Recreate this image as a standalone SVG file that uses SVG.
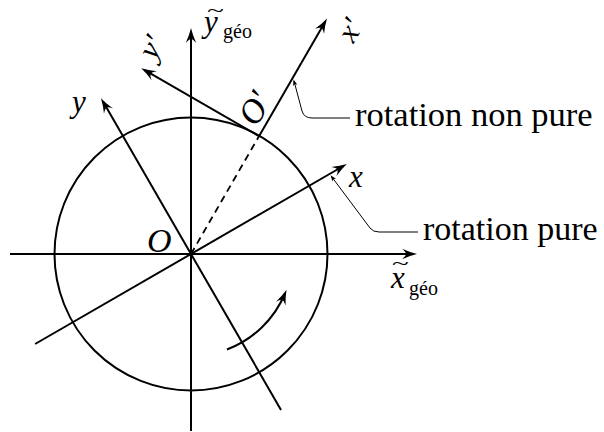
<svg xmlns="http://www.w3.org/2000/svg" width="604" height="432" viewBox="0 0 604 432">
<defs>
<marker id="arr" markerUnits="userSpaceOnUse" markerWidth="20" markerHeight="20" refX="0" refY="0" orient="auto" overflow="visible">
<path d="M4,0 Q-3,-1.6 -11,-5.2 Q-7,-1.8 -7,0 Q-7,1.8 -11,5.2 Q-3,1.6 4,0 Z" fill="#000"/>
</marker>
<marker id="sarr" markerUnits="userSpaceOnUse" markerWidth="10" markerHeight="10" refX="0" refY="0" orient="auto-start-reverse" overflow="visible">
<path d="M1.5,0 L-4.5,-2.2 L-3.2,0 L-4.5,2.2 Z" fill="#000"/>
</marker>
</defs>
<style>
.ax{fill:none;stroke:#000;stroke-width:2;marker-end:url(#arr)}
.pl{fill:none;stroke:#000;stroke-width:2}
.ld{fill:none;stroke:#000;stroke-width:1;marker-start:url(#sarr)}
text{font-family:'Liberation Serif','Times New Roman','DejaVu Serif',serif;fill:#000}
.m{font-style:italic}
</style>
<rect width="604" height="432" fill="#fff"/>
<g id="circle">
<circle cx="191" cy="254" r="136.5" class="pl"/>
</g>
<g id="connectors">
<line class="ax" x1="10" y1="254" x2="413" y2="254"/>
<line class="ax" x1="191" y1="431" x2="191" y2="32"/>
<line class="ax" x1="35.1" y1="344" x2="343.4" y2="166"/>
<line class="ax" x1="281" y1="409.9" x2="103" y2="101.6"/>
<line stroke="#000" stroke-width="1.8" stroke-dasharray="7,5" x1="191" y1="254" x2="259" y2="136.2"/>
<line class="ax" x1="259" y1="136.2" x2="325" y2="21.9"/>
<line class="ax" x1="259" y1="136.2" x2="144.7" y2="70.2"/>
<path class="ax" d="M226.9,349.5 A102,102 0 0 0 285,293.5"/>
<path class="ld" d="M294,81 L302,111 Q304,118 312,118 L350,118"/>
<path class="ld" d="M331.5,176.5 L370,228 Q373,232 379,232 L418,232"/>
</g>
<g id="labels">
<text font-family="Liberation Serif, serif" x="355" y="126" font-size="34.5">rotation non pure</text>
<text font-family="Liberation Serif, serif" x="423" y="240" font-size="34">rotation pure</text>
<text class="m" font-family="Liberation Serif, serif" x="349" y="187" font-size="31">x</text>
<text class="m" font-family="Liberation Serif, serif" x="72" y="112" font-size="31">y</text>
<text class="m" font-family="Liberation Serif, serif" x="147" y="252" font-size="34">O</text>
<text class="m" font-family="Liberation Serif, serif" x="204" y="32" font-size="31">y</text>
<text font-family="Liberation Serif, serif" transform="translate(207,17) scale(1,0.6)" font-size="31">~</text>
<text font-family="Liberation Serif, serif" x="223" y="38" font-size="20">géo</text>
<text class="m" font-family="Liberation Serif, serif" x="391" y="288" font-size="31">x</text>
<text font-family="Liberation Serif, serif" transform="translate(392,270) scale(1,0.6)" font-size="31">~</text>
<text font-family="Liberation Serif, serif" x="409" y="295" font-size="20">géo</text>
<text class="m" font-family="Liberation Serif, serif" transform="translate(350,30) rotate(-60)" x="0" y="10" font-size="31" text-anchor="middle">x′</text>
<text class="m" font-family="Liberation Serif, serif" transform="translate(153,48) rotate(-60)" x="0" y="8" font-size="31" text-anchor="middle">y′</text>
<text class="m" font-family="Liberation Serif, serif" transform="translate(254,108) rotate(-60)" x="0" y="12" font-size="34" text-anchor="middle">O′</text>
</g>
</svg>
